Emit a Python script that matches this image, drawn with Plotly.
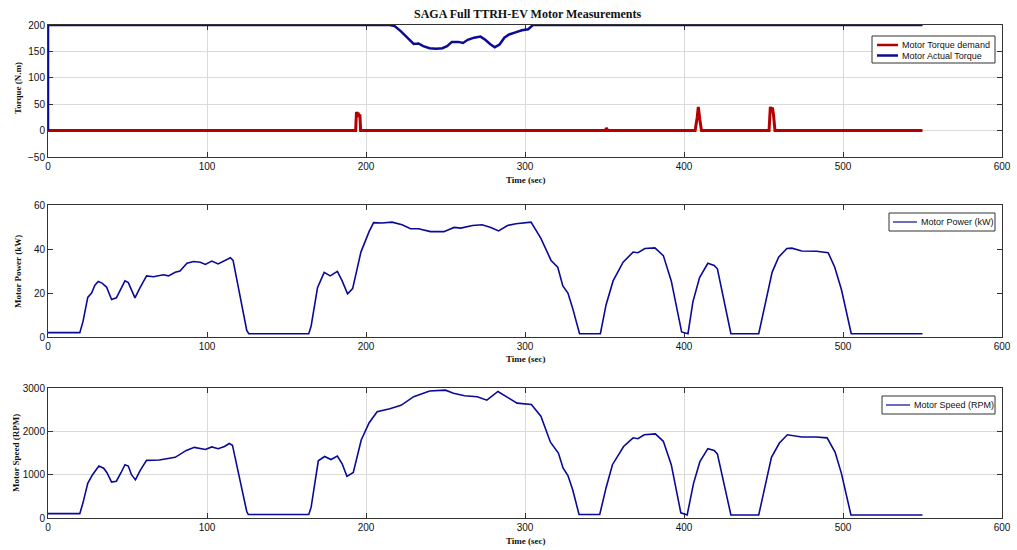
import plotly.graph_objects as go

# ---------------- data ----------------
title_text = "SAGA Full TTRH-EV Motor Measurements"

# Top panel: torque
demand_t = [0, 193.5, 194, 194.6, 195.0, 195.4, 196.2, 196.6, 350.5, 351.2, 352, 407, 408.3, 409, 410, 411, 453.5, 454.3, 455, 455.6, 456.3, 457.2, 550]
demand_v = [0, 0, 35, 30, 34, 28, 28, 0, 0, 5, 0, 0, 25, 45, 20, 0, 0, 45, 38, 44, 30, 0, 0]

actual_t = [0, 0.01, 215, 218, 222, 226, 230, 233, 236, 240, 244, 248, 251, 254, 258, 261, 264, 268, 272, 275, 278, 281, 284, 287, 290, 294, 298, 302, 305, 550]
actual_v = [0, 200, 200, 198, 188, 175, 164, 165, 160, 156, 155, 156, 160, 168, 168, 166, 172, 176, 178, 172, 164, 158, 163, 176, 182, 186, 190, 192, 200, 200]

# Middle panel: motor power (kW)
power_t = [0, 20, 22, 25, 27.4, 29.5, 31.6, 34, 36.8, 40, 43, 46, 48.4, 50.5, 52.5, 54.7, 57.9, 62, 66.3, 72.6, 75.8, 80, 83, 87.4, 91.6, 95.8, 99,
           103, 107, 111, 114.7, 116.4, 125, 126.3, 164, 165.5, 169.5, 173.7, 177.5, 182, 185, 188.4, 191.6, 196.8, 202, 204.8, 210, 216.4, 222.7,
           228, 233, 240.6, 249, 255.4, 259.6, 267, 273, 278.5, 283.4, 289, 294.3, 303.8, 310, 316.4, 320.6, 323.8, 327, 330, 334.3,
           347.4, 351, 355.4, 361.7, 368, 371, 375.4, 381.7, 387, 392, 398.5, 402.5, 405.6, 409.8, 415, 419, 421, 429.5, 447, 455.4,
           459.5, 464.7, 467.8, 474, 483.4, 490.7, 494.8, 499, 505.2, 550]
power_v = [2, 2, 7, 18, 20, 23.5, 25.2, 24.5, 22.7, 17, 17.8, 22, 25.5, 24.7, 21, 17.8, 22.4, 27.8, 27.4, 28.3, 27.8, 29.4, 30, 33.5, 34.3, 34, 33,
           34.5, 33.2, 34.5, 36, 34.8, 3, 1.5, 1.5, 5, 22.4, 29.4, 27.8, 29.8, 25.5, 19.6, 22, 38.6, 48, 52, 51.8, 52.2, 51,
           49.2, 49.2, 47.9, 47.9, 49.8, 49.5, 50.7, 51, 49.8, 48.2, 50.7, 51.5, 52.2, 44.8, 34.8, 31.7, 23.2, 20, 13, 1.5,
           1.5, 14.7, 25.5, 34, 38.6, 38.3, 40.2, 40.5, 37, 25.5, 2.3, 1.5, 16, 27, 33.5, 32.5, 31, 1.5, 1.5, 29.4,
           36.3, 40.2, 40.4, 39.1, 39, 38.3, 31.7, 21.6, 1.5, 1.5]

# Bottom panel: motor speed (RPM)
speed_t = [0, 20, 22, 25, 28, 32, 35, 37, 40, 43, 46, 48.4, 50.5, 52.5, 55, 58, 62, 70, 80, 87, 92, 99, 103, 107, 111, 114, 116, 125, 126,
           164, 165.5, 170, 174, 178, 182, 185, 188, 192, 197, 202, 207, 215, 222, 230, 240, 250, 255, 262, 270, 276, 283, 288, 295, 304,
           310, 316, 321, 324, 327, 330, 334, 347, 351, 355, 362, 368, 371, 375, 382, 387, 392, 398, 402, 406, 410, 415, 419, 421,
           429.5, 447, 455, 460, 465, 474, 483, 490, 495, 499, 505, 550]
speed_v = [100, 100, 350, 800, 1000, 1200, 1150, 1050, 830, 850, 1050, 1230, 1200, 1000, 880, 1100, 1330, 1340, 1400, 1560, 1630, 1580,
           1640, 1600, 1650, 1720, 1680, 150, 80,
           80, 250, 1320, 1420, 1350, 1430, 1250, 960, 1050, 1800, 2200, 2450, 2520, 2600, 2800, 2930, 2950, 2880, 2820, 2800, 2720,
           2920, 2800, 2650, 2620, 2350, 1750, 1500, 1150, 980, 650, 80, 80, 700, 1230, 1650, 1850, 1830, 1920, 1940, 1770, 1230,
           120, 70, 800, 1300, 1600, 1560, 1480, 70, 70, 1400, 1730, 1920, 1870, 1870, 1850, 1520, 1030, 70, 70]

x_ticks = [0, 100, 200, 300, 400, 500, 600]
torque_ticks = [-50, 0, 50, 100, 150, 200]
power_ticks = [0, 20, 40, 60]
speed_ticks = [0, 1000, 2000, 3000]

# ---------------- styling ----------------
W, H = 1017, 550
RED = "#B40000"
BLUE = "#0A0A96"
AX = "#333333"
GRID = "#DADADA"
TICKFONT = dict(family="Liberation Sans, Arial", size=10, color="#111111")
SERIF = "Liberation Serif, Times New Roman"
SANS = "Liberation Sans, Arial"

xdom = [48 / W, 1002 / W]
def ydom(top, bottom):
    return [1 - bottom / H, 1 - top / H]

fig = go.Figure()
fig.add_trace(go.Scatter(x=demand_t, y=demand_v, mode="lines", name="Motor Torque demand",
                         line=dict(color=RED, width=3), xaxis="x", yaxis="y"))
fig.add_trace(go.Scatter(x=actual_t, y=actual_v, mode="lines", name="Motor Actual Torque",
                         line=dict(color=BLUE, width=2.5), xaxis="x", yaxis="y", cliponaxis=False))
fig.add_trace(go.Scatter(x=power_t, y=power_v, mode="lines", name="Motor Power (kW)",
                         line=dict(color=BLUE, width=1.6), xaxis="x2", yaxis="y2"))
fig.add_trace(go.Scatter(x=speed_t, y=speed_v, mode="lines", name="Motor Speed (RPM)",
                         line=dict(color=BLUE, width=1.6), xaxis="x3", yaxis="y3"))

def xaxis(anchor, grid):
    return dict(domain=xdom, range=[0, 600], tickvals=x_ticks, anchor=anchor,
                showgrid=grid, gridcolor=GRID, gridwidth=1, zeroline=False,
                showline=True, linecolor=AX, linewidth=1, mirror="ticks",
                ticks="inside", ticklen=5, tickcolor=AX, tickfont=TICKFONT,
                automargin=False, layer="below traces")

def yaxis(anchor, rng, tv, dom, grid):
    return dict(domain=dom, range=rng, tickvals=tv, anchor=anchor,
                showgrid=grid, gridcolor=GRID, gridwidth=1, zeroline=False,
                showline=True, linecolor=AX, linewidth=1, mirror="ticks",
                ticks="inside", ticklen=5, tickcolor=AX, tickfont=TICKFONT,
                automargin=False, layer="below traces")

fig.update_layout(
    width=W, height=H, margin=dict(l=0, r=0, t=0, b=0, autoexpand=False),
    paper_bgcolor="white", plot_bgcolor="white", showlegend=False,
    xaxis=xaxis("y", True),
    yaxis=yaxis("x", [-50, 200], torque_ticks, ydom(25, 157), True),
    xaxis2=xaxis("y2", False),
    yaxis2=yaxis("x2", [0, 60], power_ticks, ydom(205, 337), False),
    xaxis3=xaxis("y3", True),
    yaxis3=yaxis("x3", [0, 3000], speed_ticks, ydom(388, 518), True),
)

def px(x):
    return x / W

def py(y):
    return 1 - y / H

# legend boxes (MATLAB-style), drawn in paper coordinates
legends = [
    dict(box=(872, 36, 995, 63), entries=[(RED, "Motor Torque demand", 45, 2.5), (BLUE, "Motor Actual Torque", 55.5, 2.5)], l0=877, l1=898),
    dict(box=(889, 213, 995, 231), entries=[(BLUE, "Motor Power (kW)", 222, 1.2)], l0=893, l1=917),
    dict(box=(882, 396, 995, 414), entries=[(BLUE, "Motor Speed (RPM)", 405, 1.2)], l0=886, l1=910),
]
for lg in legends:
    x0, y0, x1, y1 = lg["box"]
    fig.add_shape(type="rect", xref="paper", yref="paper", x0=px(x0), x1=px(x1), y0=py(y1), y1=py(y0),
                  line=dict(color="#333333", width=1), fillcolor="white", layer="above")
    for col, txt, yy, lw in lg["entries"]:
        fig.add_shape(type="line", xref="paper", yref="paper", x0=px(lg["l0"]), x1=px(lg["l1"]), y0=py(yy), y1=py(yy),
                      line=dict(color=col, width=lw), layer="above")
        fig.add_annotation(xref="paper", yref="paper", x=px(lg["l1"] + 2), y=py(yy), text=txt, showarrow=False,
                           xanchor="left", yanchor="middle", font=dict(family=SANS, size=9, color="#111111"))

annots = [
    dict(text="<b>" + title_text + "</b>", x=527 / W, y=1 - 14 / H, font=dict(family=SERIF, size=12, color="#111111")),
    dict(text="<b>Time (sec)</b>", x=526 / W, y=1 - 180 / H, font=dict(family=SERIF, size=9, color="#111111")),
    dict(text="<b>Time (sec)</b>", x=526 / W, y=1 - 359 / H, font=dict(family=SERIF, size=9, color="#111111")),
    dict(text="<b>Time (sec)</b>", x=526 / W, y=1 - 541 / H, font=dict(family=SERIF, size=9, color="#111111")),
    dict(text="<b>Torque (N.m)</b>", x=18 / W, y=1 - 88 / H, textangle=-90, font=dict(family=SERIF, size=9, color="#111111")),
    dict(text="<b>Motor Power (kW)</b>", x=18 / W, y=1 - 272 / H, textangle=-90, font=dict(family=SERIF, size=9, color="#111111")),
    dict(text="<b>Motor Speed (RPM)</b>", x=16 / W, y=1 - 453 / H, textangle=-90, font=dict(family=SERIF, size=9, color="#111111")),
]
for a in annots:
    fig.add_annotation(xref="paper", yref="paper", showarrow=False, xanchor="center", yanchor="middle", **a)

fig.write_html("out.html", config={"displayModeBar": False},
               post_script="document.body.style.margin='0';document.body.style.padding='0';document.body.style.overflow='hidden';")
